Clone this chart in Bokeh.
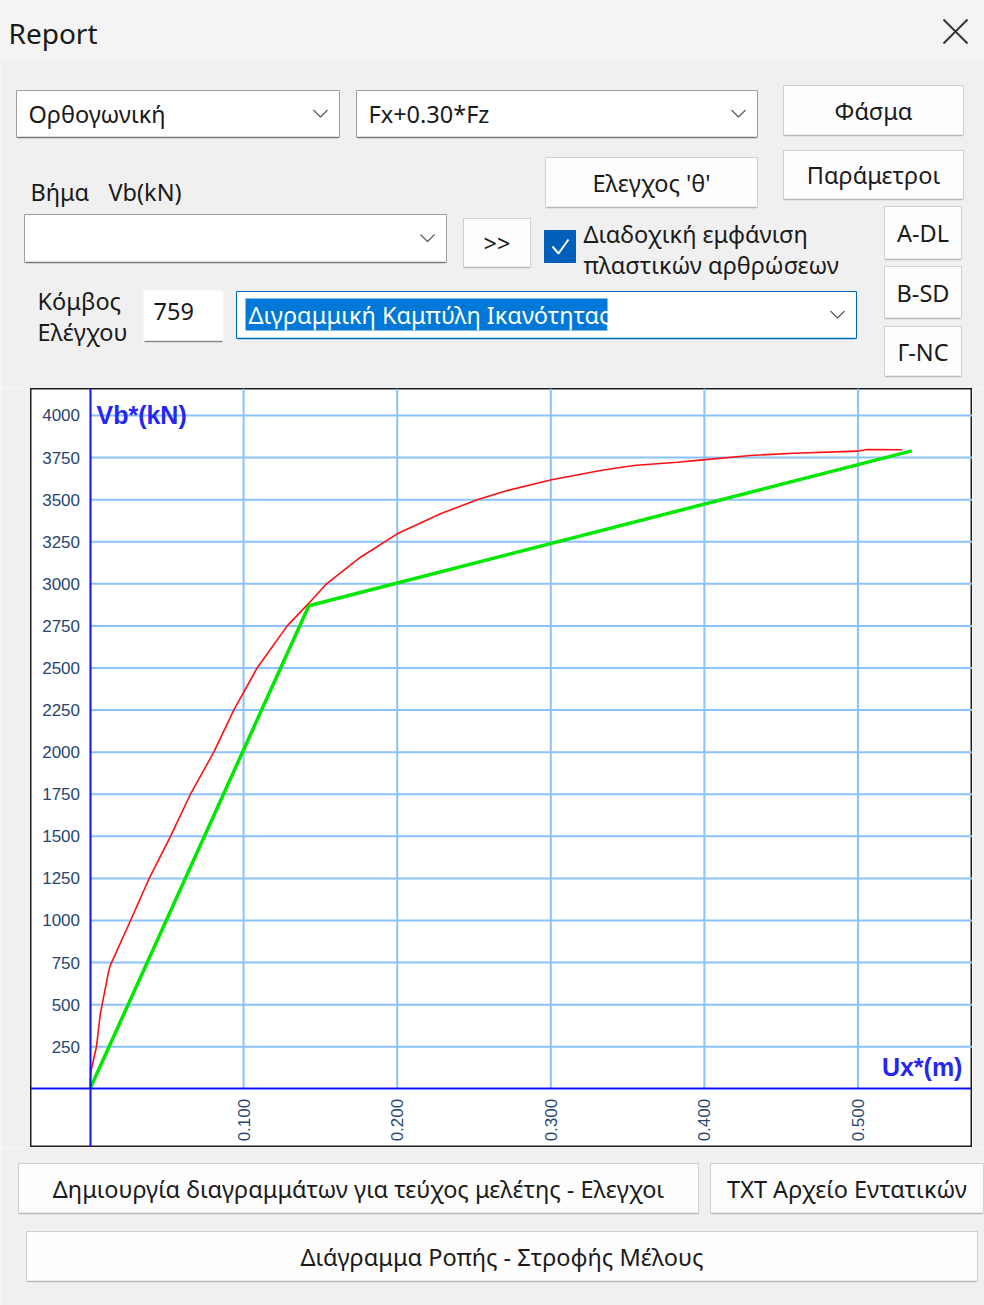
import math
from bokeh.plotting import figure
from bokeh.models import Range1d, LinearAxis, FixedTicker, PrintfTickFormatter, Label
from bokeh.layouts import column, row
from bokeh.embed import file_html
from bokeh.resources import INLINE
from bokeh.core.properties import value

# ---- pushover capacity curve of control node 759 (Ux* in m, Vb* in kN) ----
ux_capacity = [0.0, 0.0005, 0.0042, 0.0068, 0.0122, 0.0133, 0.0264, 0.0383, 0.0524,
               0.0654, 0.0806, 0.0936, 0.1088, 0.1284, 0.1425, 0.1540,
               0.1761, 0.2000, 0.2282, 0.2521, 0.2716, 0.3005, 0.3324, 0.3540, 0.3823,
               0.4007, 0.4300, 0.4582, 0.4995, 0.5060, 0.5288]
vb_capacity = [0, 100, 250, 450, 700, 735, 1000, 1245, 1500,
               1750, 2000, 2250, 2500, 2750, 2885, 3000,
               3158, 3297, 3416, 3499, 3554, 3618, 3673, 3703, 3722,
               3738, 3762, 3776, 3788, 3798, 3796]

# ---- bilinear idealisation ----
ux_bilinear = [0.0, 0.1425, 0.535]
vb_bilinear = [0.0, 2870, 3790]

x_ticks = [0.1, 0.2, 0.3, 0.4, 0.5]
y_ticks = [250, 500, 750, 1000, 1250, 1500, 1750, 2000, 2250, 2500, 2750, 3000, 3250, 3500, 3750, 4000]
x_title = "Ux*(m)"
y_title = "Vb*(kN)"

BG = "#f0f0f0"
UI_FONT = "Noto Sans"
UI_SIZE = "23.5px"
TXT = "#1a1a1a"

W = 984
TOP_H = 388
MID_H = 759
BOT_H = 1305 - TOP_H - MID_H


def ui_fig(w, h, y0):
    f = figure(width=w, height=h, x_range=Range1d(0, w), y_range=Range1d(y0 + h, y0),
               output_backend="svg", toolbar_location=None, min_border=0,
               x_axis_type=None, y_axis_type=None, title=None)
    f.background_fill_color = BG
    f.border_fill_color = BG
    f.outline_line_color = None
    f.grid.visible = False
    return f


def box(f, x0, y0, x1, y1, fill="#fdfdfd", line="#d3d3d3", bottom=None):
    f.quad(left=x0, right=x1, top=y0, bottom=y1, fill_color=fill, line_color=line, line_width=1)
    if bottom:
        f.line([x0 + 1, x1 - 1], [y1, y1], line_color=bottom, line_width=1.5)


def txt(f, x, y, s, align="left", color=TXT, size=UI_SIZE, font=UI_FONT):
    f.text(x=[x], y=[y], text=[s], text_align=align, text_baseline="middle",
           text_color=color, text_font=value(font), text_font_size=size)


def chevron(f, cx, cy):
    f.line([cx - 7, cx, cx + 7], [cy - 4, cy + 3, cy - 4], line_color="#5f5f5f", line_width=1.3)


def button(f, x0, y0, x1, y1, label):
    box(f, x0, y0, x1, y1, fill="#fdfdfd", line="#d0d0d0", bottom="#b9b9b9")
    txt(f, (x0 + x1) / 2, (y0 + y1) / 2, label, align="center")


def combo(f, x0, y0, x1, y1, label, line="#a0a0a0", bottom="#7a7a7a"):
    box(f, x0, y0, x1, y1, fill="#ffffff", line=line, bottom=bottom)
    if label:
        txt(f, x0 + 12, (y0 + y1) / 2, label)
    chevron(f, x1 - 19, (y0 + y1) / 2)


# ---------------- top panel ----------------
top = ui_fig(W, TOP_H, 0)
top.quad(left=0, right=W, top=0, bottom=62, fill_color="#f4f4f4", line_color=None)
txt(top, 8, 32, "Report", size="28px")
top.line([943, 967], [19, 43], line_color="#333333", line_width=2)
top.line([967, 943], [19, 43], line_color="#333333", line_width=2)

combo(top, 16, 90, 339, 137, "Ορθογωνική")
combo(top, 356, 90, 757, 137, "Fx+0.30*Fz")
button(top, 783, 85, 963, 135, "Φάσμα")

txt(top, 30, 191, "Βήμα")
txt(top, 108, 191, "Vb(kN)")
button(top, 545, 157, 757, 207, "Ελεγχος 'θ'")
button(top, 783, 150, 963, 199, "Παράμετροι")

combo(top, 24, 214, 446, 262, "")
button(top, 463, 218, 530, 267, ">>")
top.quad(left=544, right=575, top=230, bottom=262, fill_color="#005fb8", line_color="#005fb8")
top.line([552, 558, 568], [246, 253, 239], line_color="#ffffff", line_width=2)
txt(top, 583, 233, "Διαδοχική εμφάνιση")
txt(top, 583, 264, "πλαστικών αρθρώσεων")

button(top, 884, 206, 961, 259, "A-DL")
button(top, 884, 266, 961, 318, "B-SD")
button(top, 884, 326, 961, 376, "Γ-NC")

txt(top, 37, 300, "Κόμβος")
txt(top, 37, 331, "Ελέγχου")
box(top, 143, 290, 223, 341, fill="#ffffff", line="#f7f7f7", bottom="#8a8a8a")
txt(top, 153, 311, "759")

combo(top, 236, 291, 856, 338, "", line="#0067c0", bottom="#0067c0")
top.quad(left=245, right=607, top=298, bottom=330, fill_color="#0078d7", line_color=None)
txt(top, 248, 314, "Διγραμμική Καμπύλη Ικανότητας", color="#ffffff")

# ---------------- chart ----------------
PX_X = 1536.0      # pixels per metre
PX_Y = 0.16833     # pixels per kN
CH_W = 942
x_lo = -59.5 / PX_X
y_hi = 700.3 / PX_Y
p = figure(width=CH_W, height=MID_H,
           x_range=Range1d(x_lo, x_lo + CH_W / PX_X),
           y_range=Range1d(y_hi - MID_H / PX_Y, y_hi),
           output_backend="svg", toolbar_location=None, min_border=0,
           x_axis_type=None, y_axis_type=None, title=None)
p.background_fill_color = "#ffffff"
p.border_fill_color = "#ffffff"
p.outline_line_color = "#1e1e1e"
p.outline_line_width = 2

x_end = p.x_range.end
y_end = p.y_range.end
grid_col = "#8cc2fb"
p.segment(x0=[0] * len(y_ticks), x1=[x_end] * len(y_ticks), y0=y_ticks, y1=y_ticks,
          line_color=grid_col, line_width=2)
p.segment(x0=x_ticks, x1=x_ticks, y0=[0] * len(x_ticks), y1=[y_end] * len(x_ticks),
          line_color=grid_col, line_width=2)

p.line(ux_capacity, vb_capacity, line_color="#ff1010", line_width=1.6)
p.line(ux_bilinear, vb_bilinear, line_color="#00e800", line_width=3.5)

label_col = "#27466f"
yax = LinearAxis(fixed_location=0, ticker=FixedTicker(ticks=y_ticks))
xax = LinearAxis(fixed_location=0, ticker=FixedTicker(ticks=x_ticks),
                 formatter=PrintfTickFormatter(format="%.3f"))
for ax in (xax, yax):
    ax.axis_line_color = "#1010ff"
    ax.axis_line_width = 2
    ax.major_tick_in = 0
    ax.major_tick_out = 0
    ax.minor_tick_in = 0
    ax.minor_tick_out = 0
    ax.major_tick_line_color = None
    ax.minor_tick_line_color = None
    ax.major_label_text_color = label_col
    ax.major_label_text_font = "Liberation Sans"
    ax.major_label_text_font_size = "17px"
    ax.major_label_standoff = 10
xax.major_label_orientation = math.pi / 2
p.add_layout(yax, "left")
p.add_layout(xax, "below")

p.add_layout(Label(x=0.0042, y=4005, text=y_title, text_baseline="middle",
                   text_font="Liberation Sans", text_font_style="bold",
                   text_font_size="25px", text_color="#2626f2"))
p.add_layout(Label(x=0.568, y=132, text=x_title, text_baseline="middle", text_align="right",
                   text_font="Liberation Sans", text_font_style="bold",
                   text_font_size="25px", text_color="#2626f2"))

left_pad = ui_fig(30, MID_H, TOP_H)
right_pad = ui_fig(W - 30 - CH_W, MID_H, TOP_H)

# ---------------- bottom panel ----------------
bot = ui_fig(W, BOT_H, TOP_H + MID_H)
button(bot, 18, 1163, 698, 1213, "Δημιουργία διαγραμμάτων για τεύχος μελέτης - Ελεγχοι")
button(bot, 710, 1163, 983, 1213, "TXT Αρχείο Εντατικών")
button(bot, 26, 1231, 977, 1281, "Διάγραμμα Ροπής - Στροφής Μέλους")

layout = column(top, row(left_pad, p, right_pad), bot)
open("out.html", "w").write(file_html(layout, INLINE, title="Report"))
